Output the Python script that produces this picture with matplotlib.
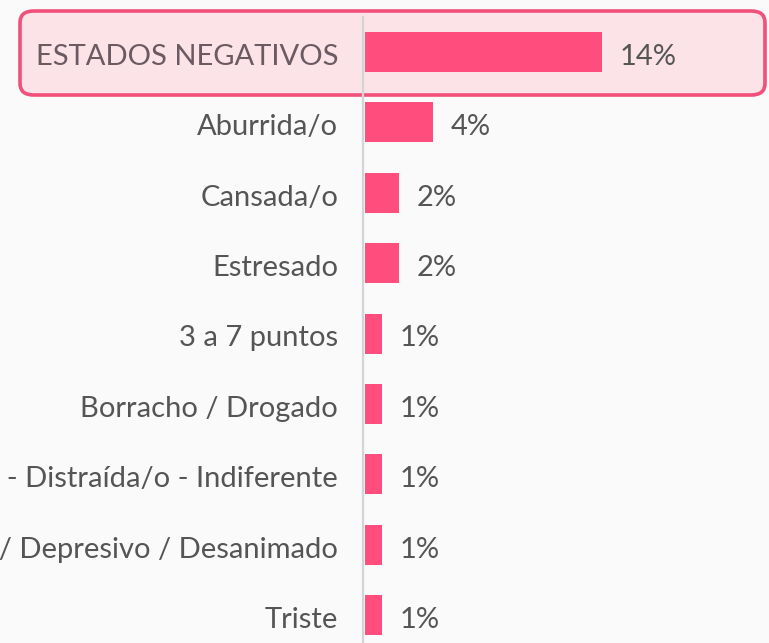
import matplotlib
matplotlib.use("Agg")
import matplotlib.pyplot as plt
from matplotlib.patches import FancyBboxPatch

categories = [
    "ESTADOS NEGATIVOS",
    "Aburrida/o",
    "Cansada/o",
    "Estresado",
    "3 a 7 puntos",
    "Borracho / Drogado",
    "Desinteresada/o - Distraída/o - Indiferente",
    "Deprimido / Depresivo / Desanimado",
    "Triste",
]
values = [14, 4, 2, 2, 1, 1, 1, 1, 1]
value_labels = ["14%", "4%", "2%", "2%", "1%", "1%", "1%", "1%", "1%"]

plt.rcParams['font.family'] = ['Lato', 'DejaVu Sans']

W, H = 769, 643
fig = plt.figure(figsize=(W / 100, H / 100), dpi=100)
fig.patch.set_facecolor('#fafafa')

# highlight box (figure pixel coords)
box = FancyBboxPatch((20 / W, (H - 95) / H), (765 - 20) / W, (95 - 11) / H,
                     boxstyle="round,pad=0,rounding_size=0.018",
                     transform=fig.transFigure, facecolor='#fbe3e8',
                     edgecolor='#f0507a', linewidth=2.6, zorder=0.5)
fig.patches.append(box)

ax = fig.add_axes([363 / W, 0, (W - 363) / W, 1])
ax.set_zorder(1)
ax.patch.set_alpha(0)

ypos = list(range(len(categories)))
ax.barh(ypos, values, height=40 / 70.4, left=0.12, color='#ff4d7d', zorder=2)
ax.set_xlim(0, 406 / 16.9)
ax.set_ylim((643 - 52) / 70.4, -52 / 70.4)
ax.plot([0, 0], [-0.5, 9], color='#d4d4d4', lw=1.6, zorder=1, clip_on=False)

for y, v, lab, cat in zip(ypos, values, value_labels, categories):
    ax.annotate(lab, (v + 0.12, y), xytext=(13, -3.5), textcoords='offset points',
                va='center', ha='left', fontsize=21, color='#555555')
    col = '#6b5a62' if y == 0 else '#555555'
    ax.annotate(cat, (0, y), xytext=(-18, -3.5), textcoords='offset points',
                va='center', ha='right', fontsize=21, color=col,
                annotation_clip=False)

ax.set_axis_off()
fig.savefig("out.png", dpi=100, facecolor=fig.get_facecolor())
